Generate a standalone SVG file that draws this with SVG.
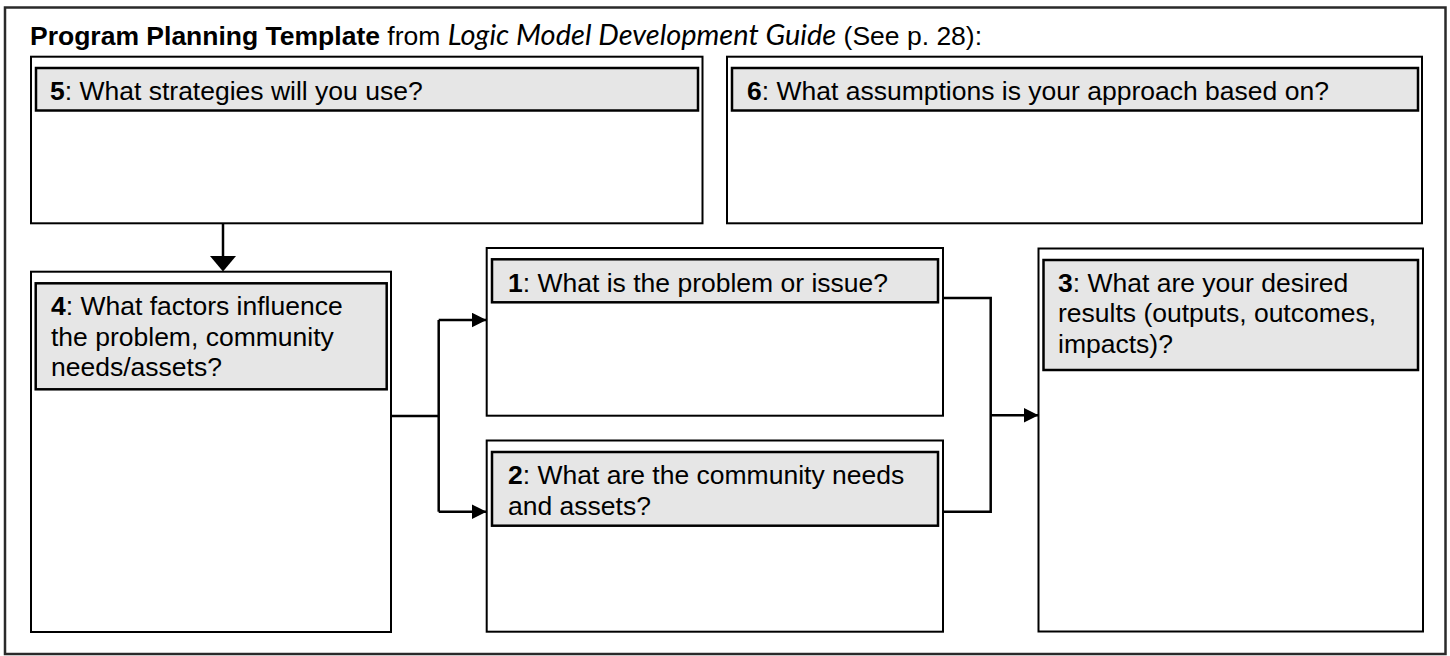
<svg xmlns="http://www.w3.org/2000/svg" width="1450" height="656" viewBox="0 0 1450 656">
<style>
.frame{fill:#fff;stroke:#2a2a2a;stroke-width:2.5}
.box{fill:#fff;stroke:#000;stroke-width:2}
.hdr{fill:#e6e6e6;stroke:#000;stroke-width:2.5}
.t{font-family:"Liberation Sans",Arial,sans-serif;font-size:26.5px;fill:#000}
.b{font-weight:bold}
.it{font-family:Lato,"Open Sans",sans-serif;font-style:italic}
.conn{fill:none;stroke:#000;stroke-width:2.5}
</style>
<defs>
<marker id="ar" markerUnits="userSpaceOnUse" markerWidth="16" markerHeight="16" refX="15" refY="7.5" orient="auto">
<path d="M0,0 L15,7.5 L0,15 Z" fill="#000"/>
</marker>
</defs>
<rect class="frame" x="5" y="7.5" width="1440.5" height="646.5"/>
<text id="title" class="t" x="30" y="45"><tspan class="b">Program Planning Template</tspan> from <tspan class="it" font-size="29">Logic Model Development Guide</tspan> (See p. 28):</text>
<g id="node5">
<rect class="box" x="31" y="56.7" width="671.5" height="166.6"/>
<rect class="hdr" x="36" y="68" width="662" height="42.5"/>
<text class="t" x="50" y="100"><tspan class="b">5</tspan>: What strategies will you use?</text>
</g>
<g id="node6">
<rect class="box" x="727" y="56.7" width="695" height="166.6"/>
<rect class="hdr" x="732" y="68" width="686" height="42.5"/>
<text class="t" x="747" y="100"><tspan class="b">6</tspan>: What assumptions is your approach based on?</text>
</g>
<g id="node4">
<rect class="box" x="31" y="271.7" width="360" height="360.3"/>
<rect class="hdr" x="35.7" y="283.3" width="351" height="106"/>
<text class="t" x="51" y="315"><tspan class="b">4</tspan>: What factors influence</text>
<text class="t" x="51" y="345.5">the problem, community</text>
<text class="t" x="51" y="376">needs/assets?</text>
</g>
<g id="node1">
<rect class="box" x="486.7" y="248" width="456.3" height="167.7"/>
<rect class="hdr" x="492" y="259.3" width="446" height="43"/>
<text class="t" x="508" y="291.5"><tspan class="b">1</tspan>: What is the problem or issue?</text>
</g>
<g id="node2">
<rect class="box" x="486.7" y="440.5" width="456.3" height="191.2"/>
<rect class="hdr" x="492" y="452" width="446" height="73.7"/>
<text class="t" x="508" y="484"><tspan class="b">2</tspan>: What are the community needs</text>
<text class="t" x="508" y="514.5">and assets?</text>
</g>
<g id="node3">
<rect class="box" x="1038.5" y="248.5" width="384.5" height="383"/>
<rect class="hdr" x="1043.5" y="260" width="374.5" height="110"/>
<text class="t" x="1058" y="291.5"><tspan class="b">3</tspan>: What are your desired</text>
<text class="t" x="1058" y="322">results (outputs, outcomes,</text>
<text class="t" x="1058" y="352.5">impacts)?</text>
</g>
<g id="connectors">
<path class="conn" d="M223,223.3 V257"/>
<path d="M210,256 L236,256 L223,271.5 Z" fill="#000"/>
<path class="conn" d="M391,416 H438.7"/>
<path class="conn" d="M438.7,320 V511.7"/>
<path class="conn" d="M438.7,320 H486.5" marker-end="url(#ar)"/>
<path class="conn" d="M438.7,511.7 H486.5" marker-end="url(#ar)"/>
<path class="conn" d="M943,298 H990.7 V511.7 H943"/>
<path class="conn" d="M990.7,415.3 H1038.5" marker-end="url(#ar)"/>
</g>
</svg>
